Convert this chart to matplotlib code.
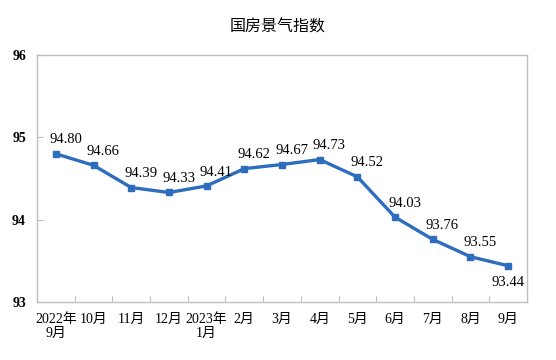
import matplotlib.pyplot as plt

plt.rcParams['font.family'] = ['Liberation Serif', 'Noto Sans CJK SC']

months = ['2022年\n9月', '10月', '11月', '12月', '2023年\n1月', '2月', '3月',
          '4月', '5月', '6月', '7月', '8月', '9月']
index_values = [94.80, 94.66, 94.39, 94.33, 94.41, 94.62, 94.67,
                94.73, 94.52, 94.03, 93.76, 93.55, 93.44]

fig = plt.figure(figsize=(5.56, 3.6), dpi=100)
ax = fig.add_axes([37/556, 1-302/360, 490/556, 247/360])

x = list(range(len(months)))
ax.plot(x, index_values, color='#2E6DBE', linewidth=2.4,
        marker='s', markersize=4.5)

for i, v in enumerate(index_values):
    if i == len(index_values) - 1:
        ax.annotate('%.2f' % v, (i, v), xytext=(0, -12), textcoords='offset points',
                    ha='center', va='center', fontsize=10.5)
    else:
        ax.annotate('%.2f' % v, (i, v), xytext=(7, 10), textcoords='offset points',
                    ha='center', va='center', fontsize=10.5)

ax.set_xlim(-0.5, len(months) - 0.5)
ax.set_ylim(93, 96)
ax.set_yticks([93, 94, 95, 96])
ax.set_xticks([i + 0.5 for i in x[:-1]])
ax.set_xticklabels([])
ax.set_xticks(x, minor=True)
ax.set_xticklabels(months, minor=True, fontsize=10, linespacing=1.05)
ax.tick_params(axis='x', which='minor', length=0, pad=8)
ax.tick_params(axis='x', which='major', direction='in', length=4, color='#BFBFBF')
ax.tick_params(axis='y', direction='in', length=4, color='#BFBFBF', labelsize=10, pad=8)
for lbl in ax.get_yticklabels():
    lbl.set_fontweight('bold')

for s in ax.spines.values():
    s.set_color('#BFBFBF')
    s.set_linewidth(1)

fig.text(0.5, 1-27/360, '国房景气指数', ha='center', va='center', fontsize=11.5,
         family=['Noto Sans CJK SC'], fontweight='medium')

plt.savefig('out.png')
